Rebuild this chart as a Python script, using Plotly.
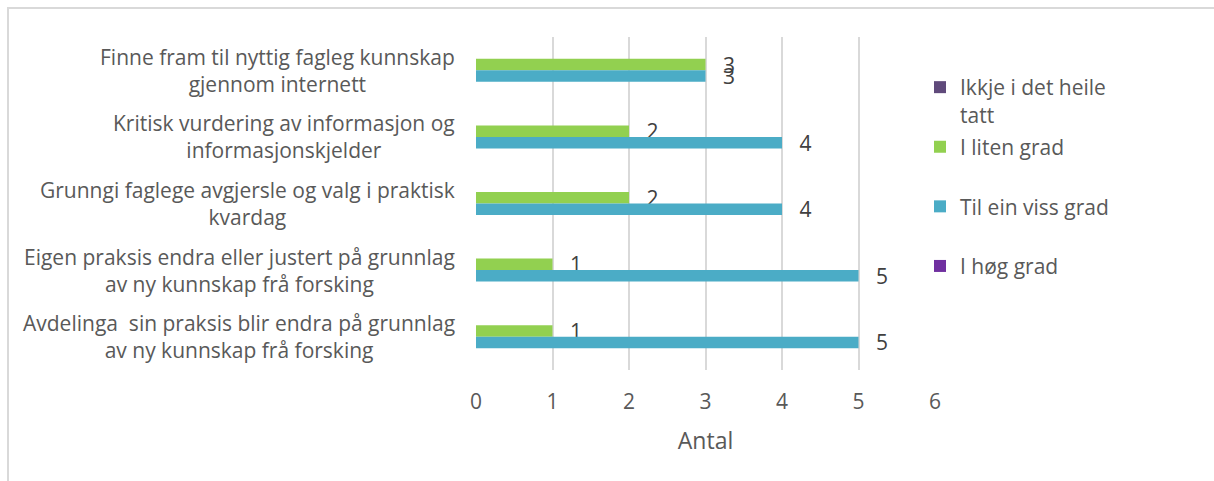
import plotly.graph_objects as go

categories = [
    "Finne fram til nyttig fagleg kunnskap<br>gjennom internett",
    "Kritisk vurdering av informasjon og<br>informasjonskjelder",
    "Grunngi faglege avgjersle og valg i praktisk<br>kvardag",
    "Eigen praksis endra eller justert på grunnlag<br>av ny kunnskap frå forsking",
    "Avdelinga  sin praksis blir endra på grunnlag<br>av ny kunnskap frå forsking",
]
series_names = ["Ikkje i det heile<br>tatt", "I liten grad", "Til ein viss grad", "I høg grad"]
ikkje = [None, None, None, None, None]
liten = [3, 2, 2, 1, 1]
viss = [3, 4, 4, 5, 5]
hog = [None, None, None, None, None]
x_ticks = [0, 1, 2, 3, 4, 5, 6]

colors = ["#604A7B", "#92D050", "#4BACC6", "#7030A0"]
TXT = "#595959"
FONT = "Open Sans"
FS = 21

fig = go.Figure()
for name, vals, col in zip(series_names, [ikkje, liten, viss, hog], colors):
    show_text = any(v is not None for v in vals)
    # pad single-line legend entries to two lines so entries are evenly spaced
    legend_name = name if "<br>" in name else name + "<br>\u00a0"
    fig.add_trace(go.Bar(
        y=categories, x=vals, name=legend_name, orientation="h",
        marker=dict(color=col, line=dict(width=0)),
        text=[("\u00a0\u00a0\u2009" + str(v)) if v is not None else "" for v in vals] if show_text else None,
        textposition="outside" if show_text else None,
        constraintext="none",
        textfont=dict(family=FONT, size=FS, color="#404040"),
        cliponaxis=False,
        legendgroup=name,
    ))

for c in categories:
    fig.add_annotation(
        x=0, xref="paper", xshift=-19, y=c, yref="y",
        text=c, showarrow=False, xanchor="right", yanchor="middle",
        align="center", font=dict(family=FONT, size=FS, color=TXT),
    )

fig.add_shape(type="rect", xref="paper", yref="paper",
              x0=(8 - 476) / 459, x1=2, y0=-1, y1=1 + (37 - 8) / 333,
              line=dict(color="#D9D9D9", width=2), fillcolor="rgba(0,0,0,0)", layer="below")

fig.update_layout(
    width=1214, height=481,
    margin=dict(l=476, r=279, t=37, b=111),
    paper_bgcolor="white", plot_bgcolor="white",
    barmode="group", bargap=0.31, bargroupgap=0,
    font=dict(family=FONT, size=FS, color=TXT),
    showlegend=True,
    legend=dict(x=(920 - 476) / 459, xanchor="left", y=1 - 30 / 333, yanchor="top",
                font=dict(family=FONT, size=FS, color=TXT),
                traceorder="grouped", tracegroupgap=2, valign="top",
                bgcolor="rgba(0,0,0,0)"),
    xaxis=dict(range=[0, 6], tickvals=x_ticks, showgrid=True, gridcolor="#D9D9D9", gridwidth=2,
               zeroline=False, showline=False, ticks="", ticklabelstandoff=17,
               tickfont=dict(family=FONT, size=FS, color=TXT),
               title=dict(text="Antal", font=dict(family=FONT, size=23, color=TXT), standoff=18)),
    yaxis=dict(autorange="reversed", showticklabels=False, showgrid=False, zeroline=False,
               showline=False, ticks=""),
)

fig.write_html("out.html")
